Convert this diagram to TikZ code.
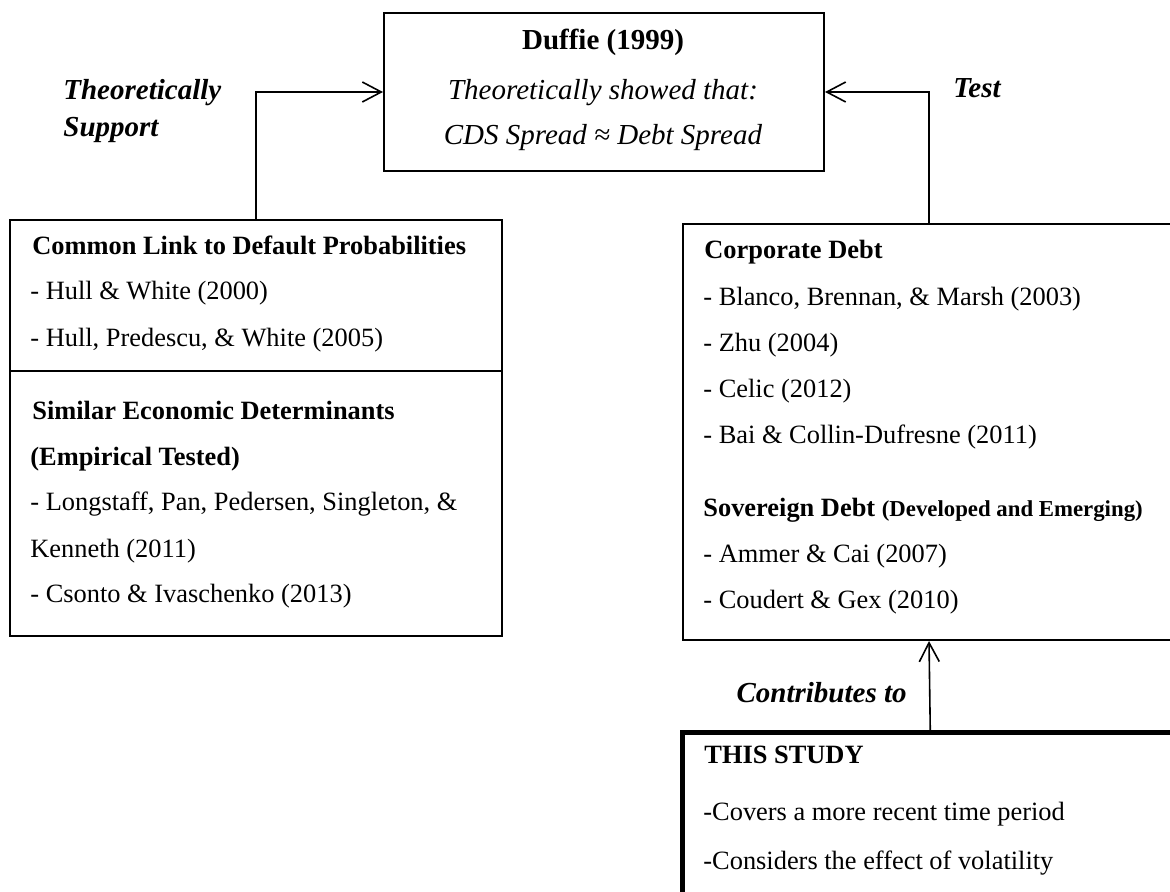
\documentclass[tikz,border=0pt]{standalone}
\usepackage{fontspec}
\setmainfont{Liberation Serif}
\usetikzlibrary{arrows.meta}
\begin{document}
\begin{tikzpicture}[x=0.5pt,y=-0.5pt,
  box/.style={draw, line width=1pt, anchor=north west, inner sep=0pt},
  txt/.style={anchor=base west, inner sep=0pt, font=\fontsize{13.2}{16}\selectfont},
  lbl/.style={anchor=base west, inner sep=0pt, font=\fontsize{14.5}{17}\selectfont\bfseries\itshape},
  ctxt/.style={anchor=base, inner sep=0pt, font=\fontsize{14.5}{17}\selectfont},
  arr/.style={-{Straight Barb[length=9.5pt,width=10pt]}, line width=0.8pt},
]
\clip (0,0) rectangle (1170,892);
\fill[white] (0,0) rectangle (1170,892);

% boxes
\node[box, minimum width=220pt, minimum height=79pt] (D) at (383,12) {};
\node[box, minimum width=246pt, minimum height=208pt] (L) at (9,219) {};
\node[box, minimum width=250pt, minimum height=208pt] (R) at (682,223) {};
\node[box, line width=2.25pt, minimum width=251pt, minimum height=90pt] (S) at (680,730) {};
\draw[line width=1pt] ([yshift=-76pt]L.north west) -- ([yshift=-76pt]L.north east);

% connectors
\draw[arr] (L.north) |- (D.west);
\draw[arr] ([xshift=-2pt]R.north) |- (D.east);
\draw[arr] ([xshift=-1.5pt]S.north) -- ([xshift=-2pt]R.south);

% Duffie box text
\node[ctxt] (d1) at (603,50) {\textbf{Duffie (1999)}};
\node[ctxt] (d2) at (603,100) {\textit{Theoretically showed that:}};
\node[ctxt] (d3) at (603,145) {\textit{CDS Spread ≈ Debt Spread}};

% connector labels
\node[lbl] (ts1) at (63,100) {Theoretically};
\node[lbl] (ts2) at (63,137) {Support};
\node[lbl] (test) at (953,98) {Test};
\node[lbl, anchor=base east] (contr) at (907,702) {Contributes to};

% left box
\node[txt] (l1) at (32,255) {\textbf{Common Link to Default Probabilities}};
\node[txt] (l2) at (30,300) {- Hull \& White (2000)};
\node[txt] (l3) at (30,347) {- Hull, Predescu, \& White (2005)};
\node[txt] (l4) at (32,419) {\textbf{Similar Economic Determinants}};
\node[txt] (l5) at (30,465) {\textbf{(Empirical Tested)}};
\node[txt] (l6) at (30,510) {- Longstaff, Pan, Pedersen, Singleton, \&};
\node[txt] (l7) at (30,557) {Kenneth (2011)};
\node[txt] (l8) at (30,602) {- Csonto \& Ivaschenko (2013)};

% right box
\node[txt] (r1) at (704,259) {\textbf{Corporate Debt}};
\node[txt] (r2) at (703,306) {- Blanco, Brennan, \& Marsh (2003)};
\node[txt] (r3) at (703,352) {- Zhu (2004)};
\node[txt] (r4) at (703,397) {- Celic (2012)};
\node[txt] (r5) at (703,443) {- Bai \& Collin-Dufresne (2011)};
\node[txt] (r6) at (703,516) {\textbf{Sovereign Debt {\fontsize{11.4}{13}\selectfont (Developed and Emerging)}}};
\node[txt] (r7) at (703,562) {- Ammer \& Cai (2007)};
\node[txt] (r8) at (703,608) {- Coudert \& Gex (2010)};

% this study
\node[txt] (s1) at (704,763) {\textbf{THIS STUDY}};
\node[txt] (s2) at (703,820) {-Covers a more recent time period};
\node[txt] (s3) at (703,869) {-Considers the effect of volatility};
\end{tikzpicture}
\end{document}
